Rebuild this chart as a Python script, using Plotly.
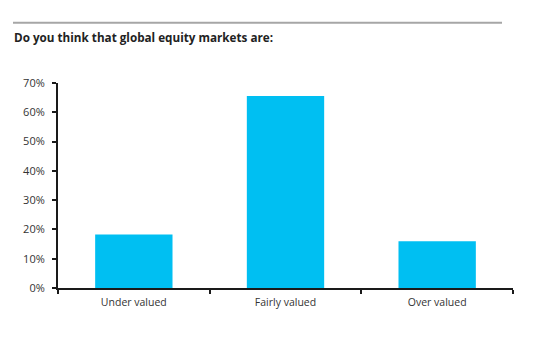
import plotly.graph_objects as go

categories = ["Under valued", "Fairly valued", "Over valued"]
values = [18.3, 65.6, 16.0]
y_ticks = [0, 10, 20, 30, 40, 50, 60, 70]
y_tick_labels = [f"{v}%" for v in y_ticks]
title_text = "Do you think that global equity markets are:"

L, R, T, B = 58, 31, 83, 64
W, H = 544, 352
pw, ph = W - L - R, H - T - B

def px_x(p):
    return (p - L) / pw

def px_y(p):
    return (H - B - p) / ph

fig = go.Figure(go.Bar(
    x=categories, y=values, marker_color="#00BFF2", width=0.51,
    marker_line_width=0,
))

fig.update_layout(
    width=W, height=H, margin=dict(l=L, r=R, t=T, b=B),
    paper_bgcolor="white", plot_bgcolor="white",
    font=dict(family="Open Sans", size=11, color="#333333"),
    showlegend=False,
    xaxis=dict(
        showline=True, linecolor="#1a1a1a", linewidth=2,
        ticks="outside", tickson="boundaries", ticklen=4, tickwidth=1.5, tickcolor="#1a1a1a",
        showgrid=False, range=[-0.5, 2.5], tickfont=dict(size=10.5, color="#333333"),
        ticklabelstandoff=3,
    ),
    yaxis=dict(
        range=[0, 70], tickvals=y_ticks, ticktext=y_tick_labels,
        showline=True, linecolor="#1a1a1a", linewidth=2,
        ticks="outside", ticklen=4, tickwidth=1.5, tickcolor="#1a1a1a",
        showgrid=False, zeroline=False, tickfont=dict(size=11, color="#333333"),
        ticklabelstandoff=5,
    ),
    shapes=[dict(
        type="line", xref="paper", yref="paper",
        x0=px_x(13), x1=px_x(502), y0=px_y(22.7), y1=px_y(22.7),
        line=dict(color="#A6A6A6", width=2),
    )],
    annotations=[dict(
        text=f"<b>{title_text}</b>", xref="paper", yref="paper",
        x=px_x(12), y=px_y(37), xanchor="left", yanchor="middle", showarrow=False,
        font=dict(size=11.7, color="#222222", family="Open Sans"),
    )],
)

fig.write_html("out.html")
